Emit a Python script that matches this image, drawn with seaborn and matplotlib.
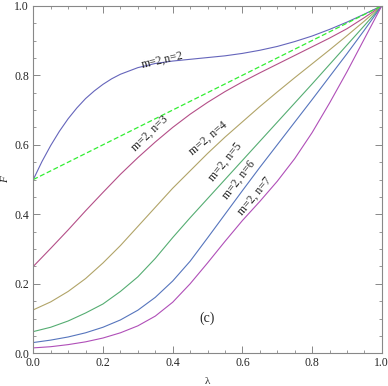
import matplotlib
matplotlib.use('Agg')
import matplotlib.pyplot as plt
from matplotlib.ticker import MultipleLocator
import seaborn as sns

sns.set_style('ticks')
plt.rcParams['font.family'] = ['Liberation Serif', 'DejaVu Serif']

# values, lambda step 0.05 (finer for n=2 at the start)
lam = [0.0, 0.05, 0.1, 0.15, 0.2, 0.25, 0.3, 0.35, 0.4, 0.45, 0.5,
       0.55, 0.6, 0.65, 0.7, 0.75, 0.8, 0.85, 0.9, 0.95, 1.0]
lam_n2 = [0.0, 0.025, 0.05, 0.075, 0.1, 0.125, 0.15, 0.175, 0.2, 0.225, 0.25,
          0.3, 0.35, 0.4, 0.45, 0.5, 0.55, 0.6, 0.65, 0.7, 0.75, 0.8, 0.85, 0.9, 0.95, 1.0]
F_n2 = [0.5, 0.552, 0.598, 0.639, 0.675, 0.706, 0.733, 0.755, 0.774, 0.79, 0.803,
        0.822, 0.834, 0.841, 0.846, 0.851, 0.856, 0.863, 0.872, 0.883, 0.897, 0.913,
        0.932, 0.953, 0.976, 1.0]
F_n3 = [0.25, 0.302, 0.355, 0.41, 0.463, 0.515, 0.563, 0.608, 0.65, 0.688, 0.722,
        0.753, 0.781, 0.807, 0.832, 0.857, 0.882, 0.907, 0.934, 0.966, 1.0]
F_n4 = [0.125, 0.148, 0.178, 0.215, 0.26, 0.31, 0.365, 0.42, 0.475, 0.525, 0.575,
        0.622, 0.666, 0.71, 0.752, 0.793, 0.833, 0.873, 0.914, 0.956, 1.0]
F_n5 = [0.0625, 0.075, 0.093, 0.116, 0.142, 0.178, 0.22, 0.273, 0.333, 0.39, 0.445,
        0.5, 0.555, 0.61, 0.665, 0.72, 0.775, 0.831, 0.887, 0.943, 1.0]
F_n6 = [0.031, 0.038, 0.047, 0.059, 0.075, 0.096, 0.124, 0.161, 0.208, 0.265, 0.332,
        0.4, 0.468, 0.535, 0.6, 0.665, 0.73, 0.796, 0.862, 0.93, 1.0]
F_n7 = [0.0156, 0.019, 0.025, 0.033, 0.044, 0.059, 0.079, 0.107, 0.147, 0.2, 0.26,
        0.322, 0.382, 0.437, 0.495, 0.56, 0.635, 0.72, 0.81, 0.905, 1.0]
lam_ref = [0.0, 1.0]
F_ref = [0.5, 1.0]

series = [(lam_n2, F_n2), (lam, F_n3), (lam, F_n4), (lam, F_n5), (lam, F_n6), (lam, F_n7)]
colors = ['#6565bb', '#b44f88', '#b1a468', '#55ad72', '#5675bd', '#b04fb8']

labels = ['m=2,n=2', 'm=2, n=3', 'm=2, n=4', 'm=2, n=5', 'm=2, n=6', 'm=2, n=7']
label_x = [0.372, 0.335, 0.502, 0.55, 0.59, 0.636]
label_y = [0.844, 0.634, 0.62, 0.55, 0.50, 0.452]
label_rot = [13, 44, 40, 51, 52, 50]

fig = plt.figure(figsize=(3.88, 3.86), dpi=100)
ax = fig.add_axes([0.0858, 0.0847, 0.8982, 0.9003])

for (xs, vals), c in zip(series, colors):
    sns.lineplot(x=xs, y=vals, color=c, lw=0.8, ax=ax)
sns.lineplot(x=lam_ref, y=F_ref, color='#33ee33', lw=0.9, ax=ax, linestyle=(0, (4, 2)))

for t, x, y, r in zip(labels, label_x, label_y, label_rot):
    ax.text(x, y, t, rotation=r, ha='center', va='center', fontsize=8.5)
ax.text(0.5, 0.10, '(c)', ha='center', va='center', fontsize=10)

ax.set_xlim(0, 1)
ax.set_ylim(0, 1)
ax.xaxis.set_major_locator(MultipleLocator(0.2))
ax.xaxis.set_minor_locator(MultipleLocator(0.05))
ax.yaxis.set_major_locator(MultipleLocator(0.2))
ax.yaxis.set_minor_locator(MultipleLocator(0.05))
ax.xaxis.set_major_formatter(lambda v, p: '%.1f' % v)
ax.yaxis.set_major_formatter(lambda v, p: '%.1f' % v)
ax.tick_params(which='both', direction='in', top=True, right=True,
               color='#888888', labelsize=8.5, pad=3)
ax.tick_params(which='major', length=5, width=0.7)
ax.tick_params(which='minor', length=2.5, width=0.6)
for s in ax.spines.values():
    s.set_color('#888888')
    s.set_linewidth(0.8)

ax.set_xlabel('λ', fontsize=8)
ax.set_ylabel('F', fontsize=8, style='italic')
ax.xaxis.set_label_coords(0.5, -0.068)
ax.yaxis.set_label_coords(-0.068, 0.5)

fig.savefig('out.png', dpi=100)
